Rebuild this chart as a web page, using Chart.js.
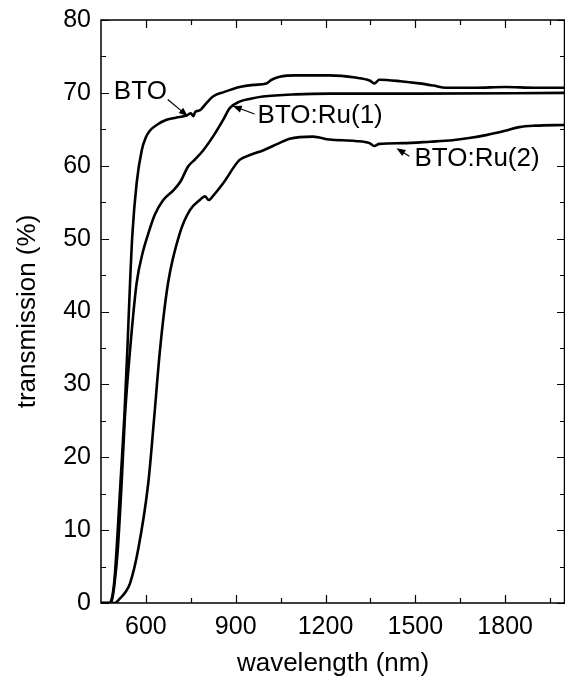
<!DOCTYPE html>
<html>
<head>
<meta charset="utf-8">
<script src="https://cdn.jsdelivr.net/npm/chart.js@4/dist/chart.umd.min.js"></script>
<style>
  html, body { margin: 0; padding: 0; background: #fff; }
  #wrap { width: 565px; height: 685px; }
</style>
</head>
<body>
<div id="wrap"><canvas id="transChart" width="565" height="685"></canvas></div>
<script>
// wavelength (nm) / transmission (%)
var btoWavelength = [450, 478, 486, 494, 502, 515, 528, 538, 547, 555, 569, 586, 600, 613, 640, 669, 700, 736, 750, 758, 765, 780, 800, 824, 860, 913, 960, 1002, 1020, 1047, 1100, 1213, 1300, 1347, 1363, 1380, 1450, 1513, 1560, 1602, 1700, 1800, 1900, 2000];
var btoTransmission = [0, 0, 0.6, 2.8, 7.3, 16.5, 25.6, 34.7, 43.9, 50.7, 57.6, 62.1, 63.9, 64.8, 65.7, 66.3, 66.6, 66.9, 67.2, 66.8, 67.4, 67.6, 68.5, 69.5, 70.1, 70.8, 71.1, 71.3, 71.8, 72.2, 72.4, 72.4, 72.1, 71.7, 71.3, 71.8, 71.6, 71.3, 71.0, 70.7, 70.7, 70.8, 70.7, 70.7];

var ru1Wavelength = [450, 478, 487, 495, 506, 519, 530, 547, 569, 590, 608, 630, 658, 691, 715, 741, 765, 791, 824, 858, 880, 913, 950, 991, 1100, 1213, 1500, 2000];
var ru1Transmission = [0, 0, 0.5, 2.6, 7.3, 16.5, 25.6, 34.7, 43.9, 48.2, 50.7, 53.3, 55.3, 56.6, 57.8, 59.9, 60.9, 62.1, 64.0, 66.3, 67.9, 68.8, 69.2, 69.5, 69.8, 69.9, 69.9, 70.0];

var ru2Wavelength = [450, 495, 513, 530, 547, 574, 608, 628, 647, 674, 713, 747, 780, 797, 810, 825, 858, 913, 950, 991, 1040, 1080, 1158, 1213, 1300, 1347, 1363, 1380, 1458, 1550, 1624, 1680, 1736, 1800, 1847, 1900, 2000];
var ru2Transmission = [0, 0, 0.6, 1.4, 2.7, 7.3, 16.5, 25.6, 34.7, 43.9, 50.7, 53.9, 55.3, 55.8, 55.3, 55.9, 57.6, 60.8, 61.5, 62.1, 63.0, 63.7, 64.0, 63.6, 63.4, 63.1, 62.7, 63.0, 63.1, 63.3, 63.5, 63.8, 64.2, 64.8, 65.3, 65.5, 65.6];

var xTicks = [600, 900, 1200, 1500, 1800];
var xMinorTicks = [750, 1050, 1350, 1650, 1950];
var yTicks = [0, 10, 20, 30, 40, 50, 60, 70, 80];
var yMinorTicks = [5, 15, 25, 35, 45, 55, 65, 75];

// labels with arrow: text anchor and arrow from/to, all in data units
var curveLabels = [
    { text: 'BTO',       x: 493,  y: 70.2, from: [673, 69.1],  to: [740, 66.8] },
    { text: 'BTO:Ru(1)', x: 973,  y: 66.9, from: [963, 67.1],  to: [890, 68.2] },
    { text: 'BTO:Ru(2)', x: 1497, y: 61.0, from: [1480, 61.3], to: [1437, 62.4] }
];

var fontFamily = '"Liberation Sans", Arial, Helvetica, sans-serif';

function toPoints(xs, ys) {
    return xs.map(function (x, i) { return { x: x, y: ys[i] }; });
}

function lineSet(label, xs, ys) {
    return {
        label: label,
        data: toPoints(xs, ys),
        borderColor: '#000',
        borderWidth: 2.6,
        pointRadius: 0,
        fill: false,
        cubicInterpolationMode: 'monotone'
    };
}

// white page behind the chart
var whiteBack = {
    id: 'whiteBack',
    beforeDraw: function (chart) {
        var c = chart.ctx;
        c.save();
        c.fillStyle = '#fff';
        c.fillRect(0, 0, chart.width, chart.height);
        c.restore();
    }
};

// box frame with inward ticks on all four sides
var frameTicks = {
    id: 'frameTicks',
    afterDraw: function (chart) {
        var c = chart.ctx, a = chart.chartArea;
        var xs = chart.scales.x, ys = chart.scales.y;
        c.save();
        c.strokeStyle = '#000';
        c.lineWidth = 1.5;
        c.strokeRect(a.left, a.top, a.right - a.left - 0.5, a.bottom - a.top);
        c.lineWidth = 1.2;
        c.beginPath();
        function xt(v, len) {
            var p = Math.round(xs.getPixelForValue(v)) + 0.5;
            c.moveTo(p, a.bottom); c.lineTo(p, a.bottom - len);
            c.moveTo(p, a.top); c.lineTo(p, a.top + len);
        }
        function yt(v, len) {
            var p = Math.round(ys.getPixelForValue(v)) + 0.5;
            c.moveTo(a.left, p); c.lineTo(a.left + len, p);
            c.moveTo(a.right, p); c.lineTo(a.right - len, p);
        }
        xTicks.forEach(function (v) { xt(v, 8); });
        xMinorTicks.forEach(function (v) { xt(v, 5); });
        yTicks.forEach(function (v) { yt(v, 8); });
        yMinorTicks.forEach(function (v) { yt(v, 5); });
        c.stroke();
        c.restore();
    }
};

var curveNotes = {
    id: 'curveNotes',
    afterDatasetsDraw: function (chart) {
        var c = chart.ctx;
        var xs = chart.scales.x, ys = chart.scales.y;
        c.save();
        c.fillStyle = '#000';
        c.strokeStyle = '#000';
        c.font = '26px ' + fontFamily;
        c.textBaseline = 'middle';
        curveLabels.forEach(function (n) {
            c.fillText(n.text, xs.getPixelForValue(n.x), ys.getPixelForValue(n.y));
            var x1 = xs.getPixelForValue(n.from[0]), y1 = ys.getPixelForValue(n.from[1]);
            var x2 = xs.getPixelForValue(n.to[0]), y2 = ys.getPixelForValue(n.to[1]);
            var ang = Math.atan2(y2 - y1, x2 - x1);
            c.lineWidth = 1.2;
            c.beginPath();
            c.moveTo(x1, y1);
            c.lineTo(x2 - 6 * Math.cos(ang), y2 - 6 * Math.sin(ang));
            c.stroke();
            // arrow head
            c.beginPath();
            c.moveTo(x2, y2);
            c.lineTo(x2 - 9 * Math.cos(ang) + 3.5 * Math.sin(ang), y2 - 9 * Math.sin(ang) - 3.5 * Math.cos(ang));
            c.lineTo(x2 - 9 * Math.cos(ang) - 3.5 * Math.sin(ang), y2 - 9 * Math.sin(ang) + 3.5 * Math.cos(ang));
            c.closePath();
            c.fill();
        });
        c.restore();
    }
};

var tickFont = { family: fontFamily, size: 25 };
var titleFont = { family: fontFamily, size: 26 };
var plainNumber = function (v) { return String(v); };

new Chart(document.getElementById('transChart'), {
    type: 'line',
    data: {
        datasets: [
            lineSet('BTO', btoWavelength, btoTransmission),
            lineSet('BTO:Ru(1)', ru1Wavelength, ru1Transmission),
            lineSet('BTO:Ru(2)', ru2Wavelength, ru2Transmission)
        ]
    },
    options: {
        responsive: false,
        animation: false,
        devicePixelRatio: 1,
        layout: { padding: { top: 20, right: 0, left: 0, bottom: 0 } },
        plugins: { legend: { display: false }, tooltip: { enabled: false } },
        scales: {
            x: {
                type: 'linear',
                min: 450,
                max: 2000,
                grid: { display: false },
                border: { display: false },
                afterBuildTicks: function (s) { s.ticks = xTicks.map(function (v) { return { value: v }; }); },
                afterFit: function (s) { s.height = 82; },
                ticks: { color: '#000', font: tickFont, padding: 1, maxRotation: 0, callback: plainNumber },
                title: { display: true, text: 'wavelength (nm)', color: '#000', font: titleFont, padding: { bottom: 6 } }
            },
            y: {
                min: 0,
                max: 80,
                grid: { display: false },
                border: { display: false },
                afterBuildTicks: function (s) { s.ticks = yTicks.map(function (v) { return { value: v }; }); },
                afterFit: function (s) { s.width = 101; },
                ticks: { color: '#000', font: tickFont, padding: 2, callback: plainNumber },
                title: { display: true, text: 'transmission (%)', color: '#000', font: titleFont, padding: { top: 12 } }
            }
        }
    },
    plugins: [whiteBack, frameTicks, curveNotes]
});
</script>
</body>
</html>
